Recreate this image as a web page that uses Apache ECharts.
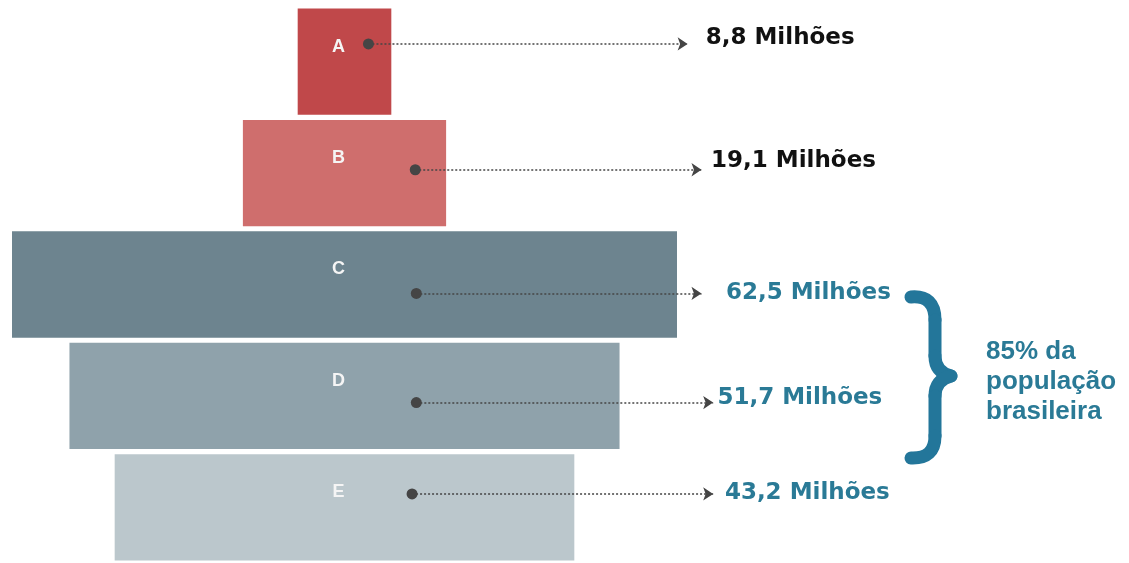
<!DOCTYPE html>
<html>
<head>
<meta charset="utf-8">
<script src="https://cdn.jsdelivr.net/npm/echarts@6/dist/echarts.min.js"></script>
<style>
  html, body { margin: 0; padding: 0; background: #ffffff; }
  #chart { width: 1129px; height: 563px; }
</style>
</head>
<body>
<div id="chart"></div>
<script>
// ---- data ----
const categories = ['A', 'B', 'C', 'D', 'E'];
const populationMillions = [8.8, 19.1, 62.5, 51.7, 43.2];
const valueLabels = ['8,8 Milhões', '19,1 Milhões', '62,5 Milhões', '51,7 Milhões', '43,2 Milhões'];
const noteText = '85% da\npopulação\nbrasileira';

// ---- styling / layout (not data) ----
const barColors = ['#c0484a', '#cf6e6d', '#6d848f', '#8fa2ab', '#bbc7cc'];
const labelColors = ['#111111', '#111111', '#2a7a96', '#2a7a96', '#2a7a96'];
const teal = '#2a7a96';
// annotation anchors in axis units (x: millions, y: row position 0..5)
const arrowStartX = [33.5, 37.9, 38.0, 38.0, 37.6];
const arrowEndX   = [63.5, 64.8, 64.8, 65.9, 65.9];
const arrowY      = [0.34, 1.47, 2.58, 3.56, 4.38];
const textX       = [65.2, 65.7, 67.1, 66.3, 67.0];
const textY       = [0.29, 1.39, 2.58, 3.52, 4.37];

const maxV = Math.max(...populationMillions);
const offsets = populationMillions.map(v => (maxV - v) / 2);

const chart = echarts.init(document.getElementById('chart'), null, { renderer: 'canvas' });

const braceStyle = { fill: 'none', stroke: '#23769a', lineWidth: 13, lineCap: 'round' };

const option = {
  backgroundColor: '#ffffff',
  animation: false,
  grid: { left: 12, right: 53, top: 6, bottom: -5, containLabel: false },
  xAxis: [{
    type: 'value', min: 0, max: 100, show: false
  }],
  yAxis: [
    { type: 'category', data: categories, inverse: true, show: false },
    { type: 'value', min: 0, max: 5, inverse: true, show: false }
  ],
  series: [
    {
      type: 'bar', stack: 'pyr', data: offsets,
      itemStyle: { color: 'transparent' },
      barCategoryGap: '4.6%', silent: true
    },
    {
      type: 'bar', stack: 'pyr',
      data: populationMillions.map((v, i) => ({ value: v, itemStyle: { color: barColors[i] } })),
      barCategoryGap: '4.6%',
      label: {
        show: true, position: 'inside', offset: [-6, -15],
        formatter: p => categories[p.dataIndex],
        color: '#f5f5f5', fontFamily: 'Liberation Sans', fontWeight: 'bold', fontSize: 18
      }
    },
    {
      type: 'lines', coordinateSystem: 'cartesian2d', xAxisIndex: 0, yAxisIndex: 1,
      symbol: ['circle', 'arrow'], symbolSize: [11, 10],
      lineStyle: { color: '#454545', width: 1.7, type: [2, 2], opacity: 1 },
      data: categories.map((c, i) => ({
        coords: [[arrowStartX[i], arrowY[i]], [arrowEndX[i], arrowY[i]]]
      })),
      z: 5
    },
    {
      type: 'scatter', xAxisIndex: 0, yAxisIndex: 1, symbolSize: 0,
      itemStyle: { opacity: 1 },
      data: categories.map((c, i) => ({
        value: [textX[i], textY[i]],
        label: { color: labelColors[i] }
      })),
      label: {
        show: true, position: 'right', distance: 0, opacity: 1,
        formatter: p => valueLabels[p.dataIndex],
        fontFamily: 'DejaVu Sans', fontWeight: 'bold', fontSize: 23
      },
      z: 6
    }
  ],
  graphic: [
    { type: 'bezierCurve', shape: { x1: 911, y1: 297, cpx1: 935, cpy1: 295, x2: 935, y2: 320 }, style: braceStyle },
    { type: 'line', shape: { x1: 935, y1: 320, x2: 935, y2: 356 }, style: braceStyle },
    { type: 'bezierCurve', shape: { x1: 935, y1: 356, cpx1: 935, cpy1: 372, x2: 951, y2: 376 }, style: braceStyle },
    { type: 'bezierCurve', shape: { x1: 951, y1: 376, cpx1: 935, cpy1: 380, x2: 935, y2: 396 }, style: braceStyle },
    { type: 'line', shape: { x1: 935, y1: 396, x2: 935, y2: 436 }, style: braceStyle },
    { type: 'bezierCurve', shape: { x1: 935, y1: 436, cpx1: 935, cpy1: 459, x2: 911, y2: 458 }, style: braceStyle },
    {
      type: 'text', left: 986, top: 337,
      style: {
        text: noteText, fill: teal,
        font: 'bold 26px "Liberation Sans"', lineHeight: 30
      }
    }
  ]
};

chart.setOption(option);
</script>
</body>
</html>
